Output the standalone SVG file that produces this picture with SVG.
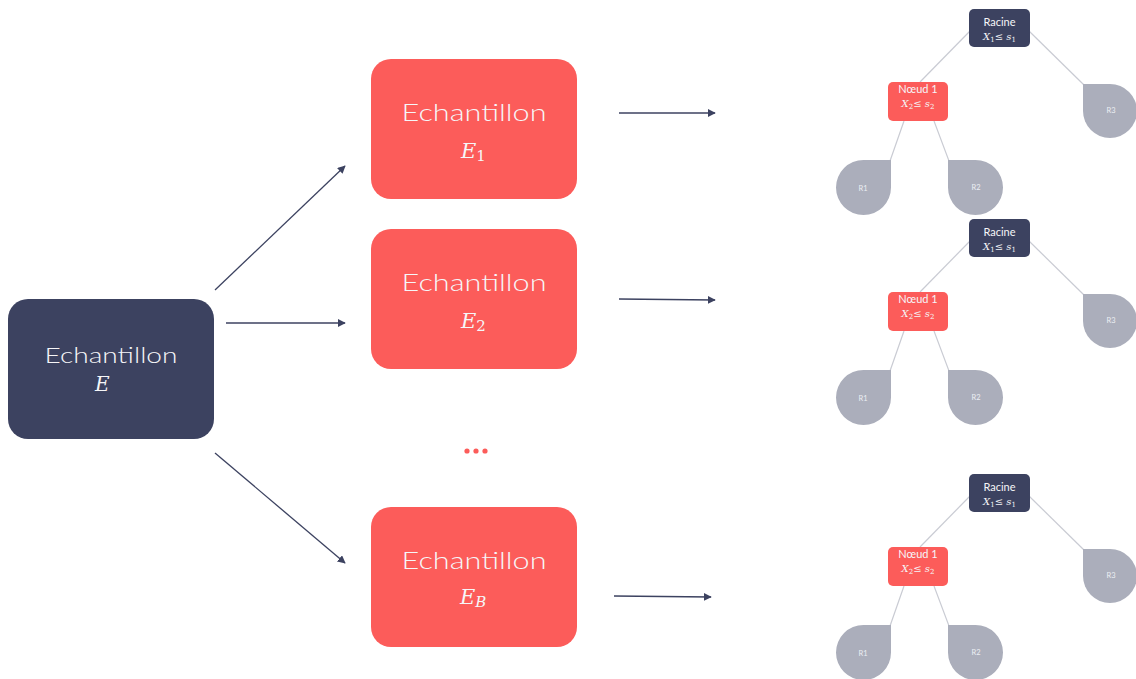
<svg xmlns="http://www.w3.org/2000/svg" width="1136" height="679" viewBox="0 0 1136 679">
<style>
.dark{fill:#3c4260}
.red{fill:#fc5c5a}
.leaf{fill:#abaebb}
.lbl{font-family:Lato,"Noto Sans","Liberation Sans",sans-serif;font-weight:300;fill:#f6f6f8;text-anchor:middle}
.math{font-family:"DejaVu Serif","Liberation Serif",serif;font-style:italic;fill:#f6f6f8}
.sub{font-style:normal}
.conn{stroke:#3c4260;stroke-width:1.3;fill:none;marker-end:url(#ah)}
.tl{stroke:#c9cbd3;stroke-width:1.2;fill:none}
.small{font-family:Lato,"Noto Sans","Liberation Sans",sans-serif;fill:#eceef3;text-anchor:middle;font-size:7.5px}
.tlbl{font-family:Lato,"Noto Sans","Liberation Sans",sans-serif;fill:#f6f6f8;text-anchor:middle;font-size:11px}
.tmath{font-family:"DejaVu Serif","Liberation Serif",serif;font-style:italic;fill:#f6f6f8;text-anchor:middle;font-size:10px}
</style>
<defs>
<marker id="ah" viewBox="0 0 10 10" refX="9" refY="5" markerWidth="8" markerHeight="8" markerUnits="userSpaceOnUse" orient="auto">
<path d="M0,0 L10,5 L0,10 Z" fill="#3c4260"/>
</marker>
<g id="tree">
<line class="tl" x1="970" y1="31" x2="920" y2="82"/>
<line class="tl" x1="1029" y1="31" x2="1084" y2="85"/>
<line class="tl" x1="904" y1="121" x2="890" y2="161"/>
<line class="tl" x1="934" y1="121" x2="949" y2="161"/>
<rect class="dark" x="969" y="9" width="61" height="38" rx="5"/>
<text class="tlbl" x="999.5" y="26">Racine</text>
<text class="tmath" x="999.5" y="40">X<tspan class="sub" font-size="7" dy="2">1</tspan><tspan dy="-2" font-style="normal">≤ </tspan>s<tspan class="sub" font-size="7" dy="2">1</tspan></text>
<rect class="red" x="888" y="82" width="60" height="39" rx="5"/>
<text class="tlbl" x="918" y="93">Nœud 1</text>
<text class="tmath" x="918" y="107">X<tspan class="sub" font-size="7" dy="2">2</tspan><tspan dy="-2" font-style="normal">≤ </tspan>s<tspan class="sub" font-size="7" dy="2">2</tspan></text>
<path class="leaf" d="M1083,84 H1110 A27,27 0 0 1 1137,111 A27,27 0 0 1 1110,138 A27,27 0 0 1 1083,111 Z"/>
<text class="small" x="1111" y="113">R3</text>
<path class="leaf" d="M891,160 V187.5 A27.5,27.5 0 0 1 863.5,215 A27.5,27.5 0 0 1 836,187.5 A27.5,27.5 0 0 1 863.5,160 Z"/>
<text class="small" x="863" y="191">R1</text>
<path class="leaf" d="M948,160 H975.5 A27.5,27.5 0 0 1 1003,187.5 A27.5,27.5 0 0 1 975.5,215 A27.5,27.5 0 0 1 948,187.5 Z"/>
<text class="small" x="976" y="190">R2</text>
</g>
</defs>

<g id="connectors">
<line class="conn" x1="215" y1="290" x2="345" y2="166"/>
<line class="conn" x1="226" y1="323" x2="345" y2="323"/>
<line class="conn" x1="215" y1="453" x2="345" y2="563"/>
<line class="conn" x1="619" y1="113" x2="715" y2="113"/>
<line class="conn" x1="619" y1="299" x2="715" y2="300"/>
<line class="conn" x1="614" y1="596" x2="711" y2="597"/>
</g>

<g id="node-E">
<rect class="dark" x="8" y="299" width="206" height="140" rx="20"/>
<text class="lbl" x="111" y="363" font-size="22" textLength="133" lengthAdjust="spacingAndGlyphs">Echantillon</text>
<text class="math" x="95" y="391" font-size="20">E</text>
</g>

<g id="node-E1">
<rect class="red" x="371" y="59" width="206" height="140" rx="20"/>
<text class="lbl" x="474" y="121" font-size="24" textLength="145" lengthAdjust="spacingAndGlyphs">Echantillon</text>
<text class="math" x="461" y="158" font-size="21">E<tspan class="sub" font-size="15" dy="3">1</tspan></text>
</g>

<g id="node-E2">
<rect class="red" x="371" y="229" width="206" height="140" rx="20"/>
<text class="lbl" x="474" y="291" font-size="24" textLength="145" lengthAdjust="spacingAndGlyphs">Echantillon</text>
<text class="math" x="461" y="328" font-size="21">E<tspan class="sub" font-size="15" dy="3">2</tspan></text>
</g>

<g id="dots">
<circle cx="467" cy="451" r="2.6" fill="#fc5c5a"/>
<circle cx="476" cy="451" r="2.6" fill="#fc5c5a"/>
<circle cx="485" cy="451" r="2.6" fill="#fc5c5a"/>
</g>

<g id="node-EB">
<rect class="red" x="371" y="507" width="206" height="140" rx="20"/>
<text class="lbl" x="474" y="569" font-size="24" textLength="145" lengthAdjust="spacingAndGlyphs">Echantillon</text>
<text class="math" x="460" y="604" font-size="21">E<tspan font-size="15" dy="3">B</tspan></text>
</g>

<g id="tree-1"><use href="#tree"/></g>
<g id="tree-2"><use href="#tree" transform="translate(0,210)"/></g>
<g id="tree-3"><use href="#tree" transform="translate(0,465)"/></g>
</svg>
